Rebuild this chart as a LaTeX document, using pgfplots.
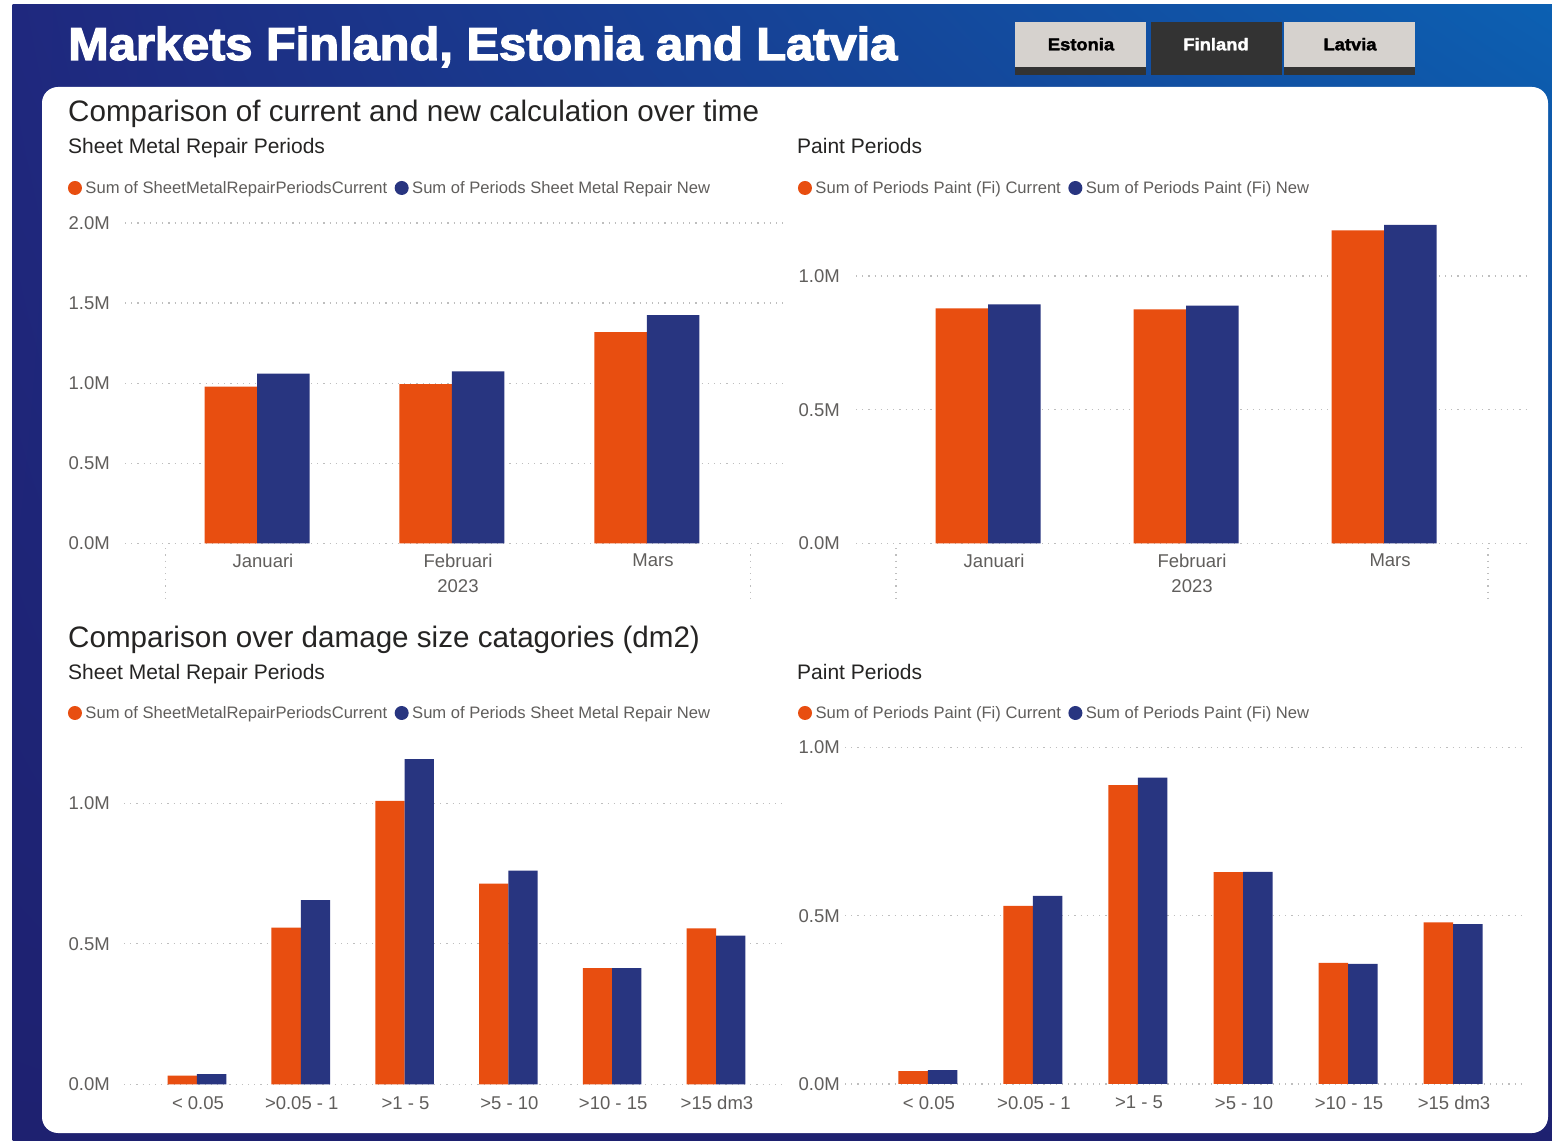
\documentclass[border=0pt]{standalone}
\usepackage{fontspec}
\setmainfont{Liberation Sans}
\newfontfamily\heavyfont{Liberation Sans Bold}[FakeStretch=1.06,FakeBold=3]
\newfontfamily\btnfont{Liberation Sans Bold}[FakeStretch=1.08,FakeBold=2]
\usepackage{pgfplots}
\pgfplotsset{compat=1.18}
\usepackage{pgfplotstable}
\usetikzlibrary{shadings}

\definecolor{curC}{RGB}{232,78,16}
\definecolor{newC}{RGB}{40,53,128}
\definecolor{navyA}{RGB}{31,40,126}
\definecolor{navyB}{RGB}{30,33,112}
\definecolor{blueR}{RGB}{12,96,178}
\definecolor{darkT}{RGB}{37,36,35}
\definecolor{labC}{RGB}{96,94,92}
\definecolor{gridC}{RGB}{190,190,190}
\definecolor{btnG}{RGB}{214,210,206}
\definecolor{btnD}{RGB}{51,51,51}

\tikzset{sepline/.style={gridC, line width=1.2pt, dash pattern=on 1.2pt off 5pt}}

\pgfplotstableread{
x cur new
0 0.979 1.060
1 0.994 1.073
2 1.319 1.425
}\smtime
\pgfplotstableread{
x cur new
0 0.879 0.894
1 0.875 0.889
2 1.171 1.191
}\ptime
\pgfplotstableread{
x cur new
0 0.031 0.036
1 0.557 0.655
2 1.008 1.157
3 0.714 0.760
4 0.413 0.413
5 0.555 0.529
}\smsize
\pgfplotstableread{
x cur new
0 0.038 0.041
1 0.529 0.559
2 0.888 0.910
3 0.629 0.630
4 0.360 0.357
5 0.480 0.475
}\psize

\pgfplotsset{
  pbase/.style={
    scale only axis, ybar, clip=false,
    axis line style={draw=none},
    major tick length=0pt,
    ymin=0,
    ymajorgrids,
    grid style={line width=1.2pt, dash pattern=on 1.2pt off 5pt, color=gridC},
    tick label style={font=\fontsize{18.5}{25}\selectfont, text=labC},
    yticklabel style={anchor=east, inner sep=0pt},
    xticklabel style={anchor=north, inner sep=0pt, align=center},
    legend columns=2,
    legend style={draw=none, fill=none, anchor=west, inner sep=0pt, outer sep=0pt,
      font=\fontsize{16.6}{18}\selectfont\color{labC},
      nodes={inner xsep=3.5pt, inner ysep=0pt},
      /tikz/every even column/.append style={column sep=4pt}},
    legend image code/.code={\fill[##1] (7pt,0pt) circle (7pt);},
  },
  timeax/.style={pbase, xtick={0,1,2}, xticklabels={Januari,{Februari\\2023},Mars},
    xticklabel style={yshift=-10.5pt, xshift=6pt}},
  sizeax/.style={pbase, xtick={0,1,2,3,4,5},
    xticklabels={{< 0.05},{>0.05 - 1},{>1 - 5},{>5 - 10},{>10 - 15},{>15 dm3}},
    xticklabel style={yshift=-12pt, xshift=1pt}},
}

\begin{document}
\begin{tikzpicture}[x=1pt,y=1pt]
\useasboundingbox (0,0) rectangle (1552,1140);
% page and background
\fill[white] (0,0) rectangle (1552,1140);
\draw[black!15, line width=1pt] (12,0) -- (12,1135.5);
\draw[black!10, line width=1pt] (12,1135.5) -- (1552,1135.5);
\shade[upper left=navyA, upper right=blueR, lower left=navyB, lower right=navyB]
  (12.5,0) rectangle (1552,1135);
% header
\node[anchor=base west, inner sep=0pt, text=white, font=\heavyfont\fontsize{46}{50}\selectfont]
  at (68,1080) {Markets Finland, Estonia and Latvia};
% buttons
\fill[btnG] (1015,1073.3) rectangle (1146,1118.3);
\fill[btnD] (1015,1065) rectangle (1146,1073.3);
\fill[btnD] (1150.7,1065) rectangle (1281.7,1118.3);
\fill[btnG] (1284,1073.3) rectangle (1415,1118.3);
\fill[btnD] (1284,1065) rectangle (1415,1073.3);
\node[anchor=base, inner sep=0pt, text=black, font=\btnfont\fontsize{17}{20}\selectfont] at (1081,1089.7) {Estonia};
\node[anchor=base, inner sep=0pt, text=white, font=\btnfont\fontsize{17}{20}\selectfont] at (1216,1089.7) {Finland};
\node[anchor=base, inner sep=0pt, text=black, font=\btnfont\fontsize{17}{20}\selectfont] at (1350,1089.7) {Latvia};
% white panel
\fill[white, rounded corners=16pt] (42,7) rectangle (1548,1053);
% section titles
\node[anchor=base west, inner sep=0pt, text=darkT, font=\fontsize{29.6}{32}\selectfont]
  at (68,1018.3) {Comparison of current and new calculation over time};
\node[anchor=base west, inner sep=0pt, text=darkT, font=\fontsize{21}{24}\selectfont]
  at (68,986.7) {Sheet Metal Repair Periods};
\node[anchor=base west, inner sep=0pt, text=darkT, font=\fontsize{21}{24}\selectfont]
  at (797,986.7) {Paint Periods};
\node[anchor=base west, inner sep=0pt, text=darkT, font=\fontsize{29.6}{32}\selectfont]
  at (68,492) {Comparison over damage size catagories (dm2)};
\node[anchor=base west, inner sep=0pt, text=darkT, font=\fontsize{21}{24}\selectfont]
  at (68,460.7) {Sheet Metal Repair Periods};
\node[anchor=base west, inner sep=0pt, text=darkT, font=\fontsize{21}{24}\selectfont]
  at (797,460.7) {Paint Periods};

% chart 1: sheet metal over time
\begin{axis}[timeax, at={(125pt,596.7pt)}, anchor=south west,
  width=660pt, height=320.3pt, xmin=-0.677, xmax=2.708, ymax=2.0,
  ytick={0,0.5,1,1.5,2}, yticklabels={0.0M,0.5M,1.0M,1.5M,2.0M},
  yticklabel style={xshift=-15pt},
  bar width=52.5pt,
  legend style={at={(-0.0864,1.1093)}}]
\addplot[fill=curC, draw=none, bar shift=-26.25pt] table[x=x,y=cur]{\smtime};
\addplot[fill=newC, draw=none, bar shift=26.25pt] table[x=x,y=new]{\smtime};
\legend{Sum of SheetMetalRepairPeriodsCurrent, Sum of Periods Sheet Metal Repair New}
\draw[sepline] (axis cs:-0.47,0) ++(0pt,-5pt) -- ++(0pt,-52pt);
\draw[sepline] (axis cs:2.53,0) ++(0pt,-5pt) -- ++(0pt,-52pt);
\end{axis}

% chart 2: paint over time
\begin{axis}[timeax, at={(856pt,596.7pt)}, anchor=south west,
  width=670pt, height=321.3pt, xmin=-0.667, xmax=2.717, ymax=1.202,
  ytick={0,0.5,1}, yticklabels={0.0M,0.5M,1.0M},
  yticklabel style={xshift=-16pt},
  bar width=52.5pt,
  legend style={at={(-0.0866,1.1058)}}]
\addplot[fill=curC, draw=none, bar shift=-26.25pt] table[x=x,y=cur]{\ptime};
\addplot[fill=newC, draw=none, bar shift=26.25pt] table[x=x,y=new]{\ptime};
\legend{Sum of Periods Paint (Fi) Current, Sum of Periods Paint (Fi) New}
\draw[sepline] (axis cs:-0.465,0) ++(0pt,-5pt) -- ++(0pt,-52pt);
\draw[sepline] (axis cs:2.525,0) ++(0pt,-5pt) -- ++(0pt,-52pt);
\end{axis}

% chart 3: sheet metal by size
\begin{axis}[sizeax, at={(124pt,55.7pt)}, anchor=south west,
  width=663pt, height=339.3pt, xmin=-0.703, xmax=5.684, ymax=1.207,
  ytick={0,0.5,1}, yticklabels={0.0M,0.5M,1.0M},
  yticklabel style={xshift=-14pt},
  bar width=29.3pt,
  legend style={at={(-0.0845,1.0943)}}]
\addplot[fill=curC, draw=none, bar shift=-14.65pt] table[x=x,y=cur]{\smsize};
\addplot[fill=newC, draw=none, bar shift=14.65pt] table[x=x,y=new]{\smsize};
\legend{Sum of SheetMetalRepairPeriodsCurrent, Sum of Periods Sheet Metal Repair New}
\end{axis}

% chart 4: paint by size
\begin{axis}[sizeax, at={(845pt,56pt)}, anchor=south west,
  width=681pt, height=340pt, xmin=-0.79, xmax=5.695, ymax=1.0098,
  ytick={0,0.5,1}, yticklabels={0.0M,0.5M,1.0M},
  yticklabel style={xshift=-5pt},
  bar width=29.5pt,
  legend style={at={(-0.069,1.0912)}}]
\addplot[fill=curC, draw=none, bar shift=-14.75pt] table[x=x,y=cur]{\psize};
\addplot[fill=newC, draw=none, bar shift=14.75pt] table[x=x,y=new]{\psize};
\legend{Sum of Periods Paint (Fi) Current, Sum of Periods Paint (Fi) New}
\end{axis}
\end{tikzpicture}
\end{document}
